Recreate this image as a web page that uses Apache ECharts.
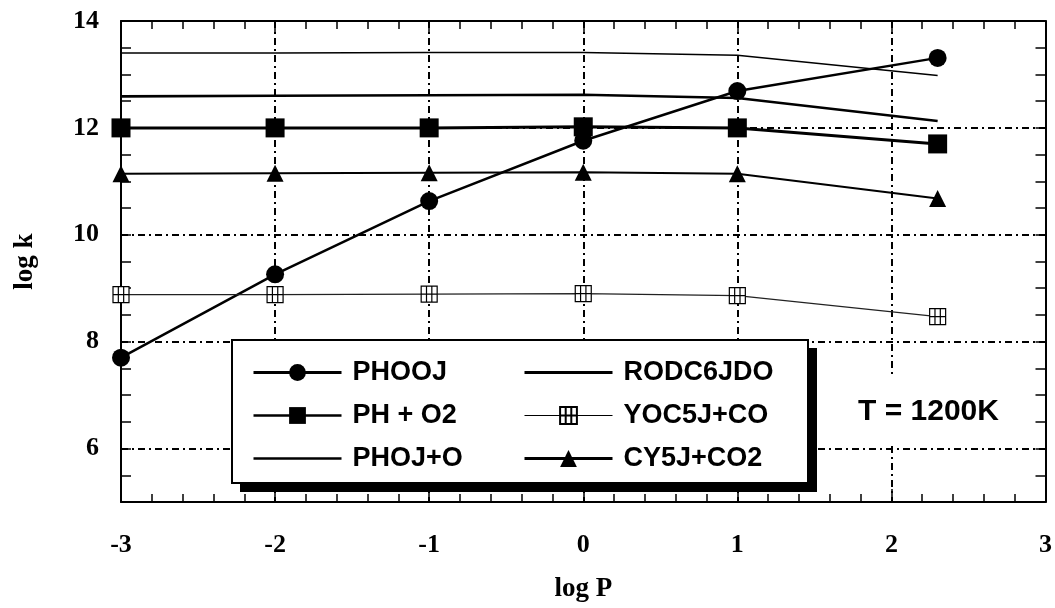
<!DOCTYPE html>
<html>
<head>
<meta charset="utf-8">
<script src="https://cdn.jsdelivr.net/npm/echarts@6/dist/echarts.min.js"></script>
<style>html,body{margin:0;padding:0;background:#fff}#c{width:1055px;height:608px}</style>
</head>
<body>
<div id="c"></div>
<script>
// ---- data ----
const logP = [-3, -2, -1, 0, 1, 2.3];
const seriesNames = ['PHOOJ', 'PH + O2', 'PHOJ+O', 'RODC6JDO', 'YOC5J+CO', 'CY5J+CO2'];
const PHOOJ    = [7.70, 9.26, 10.63, 11.76, 12.69, 13.31];
const PH_O2    = [12.00, 12.00, 12.00, 12.02, 12.00, 11.70];
const PHOJ_O   = [13.40, 13.40, 13.41, 13.41, 13.36, 12.98];
const RODC6JDO = [12.59, 12.60, 12.61, 12.62, 12.56, 12.13];
const YOC5J_CO = [8.88, 8.88, 8.89, 8.90, 8.86, 8.47];
const CY5J_CO2 = [11.14, 11.15, 11.16, 11.17, 11.14, 10.68];
const yGridValues = [6, 8, 10, 12];
const yLabelValues = [6, 8, 10, 12, 14];
const annotation = 'T = 1200K';

const pts = arr => logP.map((x, i) => [x, arr[i]]);
const serif = 'Liberation Serif';
const sans = 'Liberation Sans';
const black = '#000';
const gridDash = [7, 4, 2, 4];

const tickLabel = {fontFamily: serif, fontWeight: 'bold', fontSize: 26, color: black};

function xAxisCfg(pos, showLabel) {
  return {
    type: 'value', position: pos, min: -3, max: 3, interval: 1,
    axisLine: {show: true, onZero: false, lineStyle: {color: black, width: 2}},
    axisTick: {show: true, inside: true, length: 13, lineStyle: {color: black, width: 1.5}},
    minorTick: {show: true, splitNumber: 5, length: 8, lineStyle: {color: black, width: 1.5}},
    axisLabel: showLabel ? Object.assign({margin: 30}, tickLabel) : {show: false},
    splitLine: showLabel ? {show: true, lineStyle: {color: black, width: 2, type: gridDash}} : {show: false},
    name: showLabel ? 'log P' : '', nameLocation: 'middle', nameGap: 74,
    nameTextStyle: {fontFamily: serif, fontWeight: 'bold', fontSize: 27, color: black}
  };
}
function yAxisCfg(pos, showLabel) {
  return {
    type: 'value', position: pos, min: 5, max: 14, interval: 0.5,
    axisLine: {show: true, onZero: false, lineStyle: {color: black, width: 2}},
    axisTick: {show: true, inside: true, length: 10, lineStyle: {color: black, width: 1.5}},
    axisLabel: showLabel ? Object.assign({margin: 22,
      formatter: v => yLabelValues.indexOf(v) >= 0 ? String(v) : ''}, tickLabel) : {show: false},
    splitLine: {show: false},
    name: showLabel ? 'log k' : '', nameLocation: 'middle', nameGap: 82, nameRotate: 90,
    nameTextStyle: {fontFamily: serif, fontWeight: 'bold', fontSize: 27, color: black}
  };
}

const crossSquare = 'path://M0,0H12V12H0Z M4,0V12 M8,0V12 M0,6H12';

function lineSeries(name, data, symbol, size, width, extra) {
  return Object.assign({
    name: name, type: 'line', data: pts(data), clip: false, z: 5,
    symbol: symbol, symbolSize: size, showSymbol: symbol !== 'none',
    lineStyle: {color: black, width: width},
    itemStyle: {color: black, borderColor: black, borderWidth: 0},
    emphasis: {disabled: true}, animation: false
  }, extra || {});
}

const series = [
  lineSeries(seriesNames[0], PHOOJ, 'circle', 18, 2.5),
  lineSeries(seriesNames[1], PH_O2, 'rect', 19, 3),
  lineSeries(seriesNames[2], PHOJ_O, 'none', 0, 1.6, {itemStyle: {color: black, opacity: 0}}),
  lineSeries(seriesNames[3], RODC6JDO, 'none', 0, 2.6, {itemStyle: {color: black, opacity: 0}}),
  lineSeries(seriesNames[4], YOC5J_CO, crossSquare, 16, 1.2, {
    lineStyle: {color: '#222', width: 1.2},
    itemStyle: {color: '#fff', borderColor: black, borderWidth: 1.2}
  }),
  lineSeries(seriesNames[5], CY5J_CO2, 'triangle', 17, 2),
  {
    type: 'line', data: [], silent: true, z: 1, animation: false,
    markLine: {
      silent: true, symbol: 'none', animation: false, label: {show: false}, z: 1,
      lineStyle: {color: black, width: 2, type: gridDash},
      data: yGridValues.map(v => ({yAxis: v}))
    }
  }
];

const legendLineWidths = [3, 2.5, 2.5, 3, 1.2, 3];
const legendItems = seriesNames.map((n, i) => ({name: n, lineStyle: {width: legendLineWidths[i], color: black}}));

const legendCommon = {
  orient: 'vertical', padding: 0, itemWidth: 88, itemHeight: 21, itemGap: 16,
  selectedMode: false, z: 6,
  textStyle: {fontFamily: sans, fontWeight: 'bold', fontSize: 27, color: black, padding: [0, 0, 0, 6]}
};

const chart = echarts.init(document.getElementById('c'), null, {renderer: 'canvas'});
chart.setOption({
  backgroundColor: '#fff',
  animation: false,
  grid: {left: 121, right: 9, top: 21, bottom: 103, containLabel: false},
  xAxis: [xAxisCfg('bottom', true), xAxisCfg('top', false)],
  yAxis: [yAxisCfg('left', true), yAxisCfg('right', false)],
  legend: [
    Object.assign({}, legendCommon, {left: 252, top: 359, data: legendItems.slice(0, 3)}),
    Object.assign({}, legendCommon, {left: 523, top: 359, data: legendItems.slice(3, 6)})
  ],
  graphic: [
    {type: 'rect', z: 3, silent: true, shape: {x: 240, y: 348, width: 577, height: 144}, style: {fill: black}},
    {type: 'rect', z: 3, silent: true, shape: {x: 232, y: 340, width: 576, height: 143},
      style: {fill: '#fff', stroke: black, lineWidth: 2}},
    {type: 'text', z: 3, silent: true, left: 850, top: 377,
      style: {text: annotation, fontFamily: sans, fontWeight: 'bold', fontSize: 30, fill: black,
        backgroundColor: '#fff', padding: [20, 8, 18, 8]}}
  ],
  series: series
});
</script>
</body>
</html>
